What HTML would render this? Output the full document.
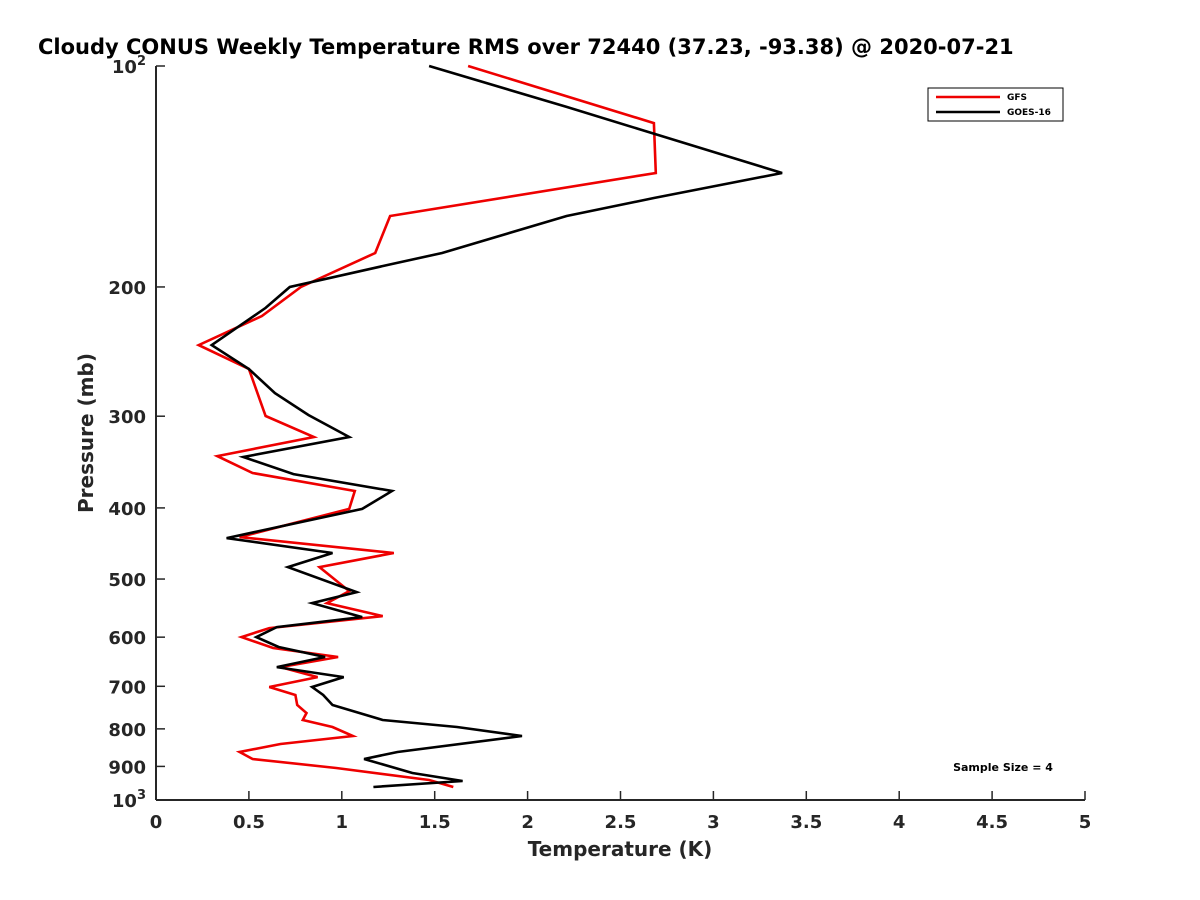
<!DOCTYPE html>
<html><head><meta charset="utf-8"><style>
body{margin:0;background:#fff}
svg{display:block;font-family:"DejaVu Sans","Liberation Sans",sans-serif}
</style></head><body>
<svg width="1200" height="900">
<rect width="1200" height="900" fill="#fff"/>
<text x="38" y="54" font-size="21" font-weight="bold" fill="#000">Cloudy CONUS Weekly Temperature RMS over 72440 (37.23, -93.38) @ 2020-07-21</text>
<g id="axes"></g>
<g id="series"></g>
<g>
<rect x="928" y="88" width="135" height="33" fill="#fff" stroke="#000" stroke-width="1"/>
<line x1="936" y1="97" x2="1000" y2="97" stroke="#e00" stroke-width="2.5"/>
<text x="1007" y="100" font-size="9" font-weight="bold">GFS</text>
<line x1="936" y1="112" x2="1000" y2="112" stroke="#000" stroke-width="2.5"/>
<text x="1007" y="115" font-size="9" font-weight="bold">GOES-16</text>
</g>
<text x="1003" y="771" font-size="11" font-weight="bold" text-anchor="middle">Sample Size = 4</text>
<text x="620" y="856" font-size="20" font-weight="bold" text-anchor="middle" fill="#262626">Temperature (K)</text>
<text transform="translate(93,433) rotate(-90)" font-size="20" font-weight="bold" text-anchor="middle" fill="#262626">Pressure (mb)</text>
</svg>
<script>
const xTicks=[0,0.5,1,1.5,2,2.5,3,3.5,4,4.5,5];
const yTicks=[100,200,300,400,500,600,700,800,900,1000];
const gfsPressure=[100,119.6,139.9,160.1,179.8,200,219.1,240,258.7,299.8,320.2,340,358.5,379.3,401.3,438.3,460.8,481.6,519.3,539.2,561.6,583.2,599.8,620.8,638.6,659,680,701.5,719.3,742.3,761.1,778,795.3,818.1,838.9,860.2,879.3,904.5,939.3,960];
const gfsRms=[1.68,2.68,2.69,1.26,1.18,0.78,0.57,0.23,0.50,0.59,0.85,0.33,0.52,1.07,1.04,0.45,1.28,0.88,1.04,0.92,1.22,0.61,0.46,0.63,0.98,0.67,0.87,0.61,0.75,0.76,0.81,0.79,0.95,1.06,0.67,0.45,0.52,0.97,1.47,1.60];
const goesPressure=[100,113.7,139.9,151.3,160.1,179.8,186.1,200,213.6,240,258.7,279,298.9,320.2,341,359.7,379.3,401.3,439.7,460.8,481.6,520.9,539.2,563.4,581.3,599.8,618.9,638.6,659,680,701.5,719.3,742.3,778,795.3,818.1,860.2,879.3,918.8,942.1,960];
const goesRms=[1.47,2.21,3.37,2.68,2.21,1.54,1.27,0.72,0.59,0.30,0.50,0.64,0.82,1.04,0.47,0.74,1.27,1.11,0.38,0.95,0.71,1.08,0.84,1.11,0.65,0.54,0.66,0.91,0.65,1.01,0.84,0.90,0.95,1.22,1.62,1.97,1.30,1.12,1.38,1.65,1.17];
const NS="http://www.w3.org/2000/svg";
const X0=156,X1=1085,Y0=66,Y1=800;
const xs=v=>X0+(v-0)/(5-0)*(X1-X0);
const ys=p=>Y0+(Math.log10(p)-2)*(Y1-Y0);
function mk(tag,attrs,parent){const e=document.createElementNS(NS,tag);for(const k in attrs)e.setAttribute(k,attrs[k]);parent.appendChild(e);return e;}
const axes=document.getElementById('axes');
const xa=mk('line',{x1:X0,y1:Y1,x2:X1,y2:Y1,stroke:'#262626','stroke-width':2},axes);


const ya=mk('line',{x1:X0,y1:Y0,x2:X0,y2:Y1,stroke:'#262626','stroke-width':2},axes);


xTicks.forEach(v=>{
 const x=xs(v);
 mk('line',{x1:x,y1:Y1,x2:x,y2:Y1-9,stroke:'#262626','stroke-width':1.5},axes);
 const t=mk('text',{x:x,y:828,'font-size':18,'font-weight':'bold','text-anchor':'middle',fill:'#262626'},axes);
 t.textContent=String(v);
 
 
});
yTicks.forEach(p=>{
 const y=ys(p);
 mk('line',{x1:X0,y1:y,x2:X0+9,y2:y,stroke:'#262626','stroke-width':1.5},axes);
 const t=mk('text',{x:146,y:y+7,'font-size':18,'font-weight':'bold','text-anchor':'end',fill:'#262626'},axes);
 if(p===100){t.innerHTML='10<tspan dy="-8" font-size="13">2</tspan>';}
 else if(p===1000){t.innerHTML='10<tspan dy="-8" font-size="13">3</tspan>';}
 else t.textContent=String(p);
 
 
});
const ser=document.getElementById('series');
function line(T,P,color,name){
 const pts=T.map((t,i)=>xs(t).toFixed(1)+','+ys(P[i]).toFixed(1)).join(' ');
 const pl=mk('polyline',{points:pts,fill:'none',stroke:color,'stroke-width':2.6,'stroke-linejoin':'miter'},ser);
 
 
}
line(gfsRms,gfsPressure,'#e00','gfs-line');
line(goesRms,goesPressure,'#000','goes-16-line');
</script>
</body></html>
